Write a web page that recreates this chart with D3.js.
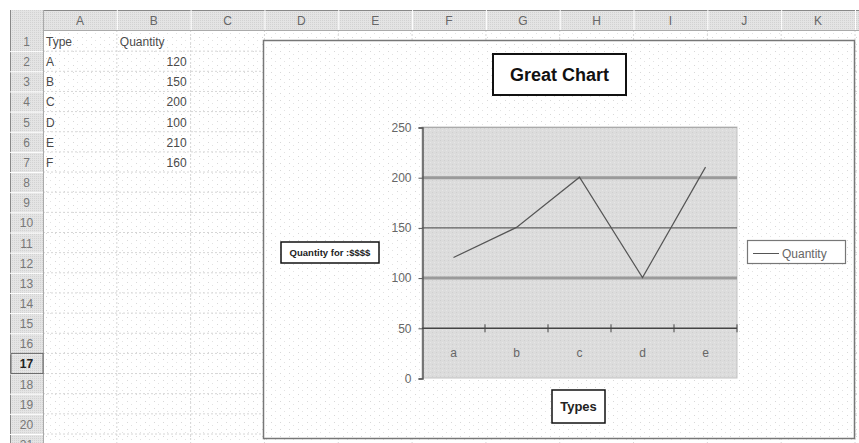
<!DOCTYPE html>
<html>
<head>
<meta charset="utf-8">
<script src="https://cdn.jsdelivr.net/npm/d3@7"></script>
<style>
  body { margin: 0; background: #fff; }
  svg { display: block; font-family: "Liberation Sans", Arial, sans-serif; }
</style>
</head>
<body>
<div id="vis"></div>
<script>
// sheet contents
var colLetters = ["A", "B", "C", "D", "E", "F", "G", "H", "I", "J", "K"];
var rowNumbers = d3.range(1, 22);
var cellTypes = ["A", "B", "C", "D", "E", "F"];
var cellQuantities = [120, 150, 200, 100, 210, 160];

// chart contents
var chartTitle = "Great Chart";
var chartCategories = ["a", "b", "c", "d", "e"];
var chartValues = [120, 150, 200, 100, 210];
var yTicks = [0, 50, 100, 150, 200, 250];
var seriesName = "Quantity";
var yTitle = "Quantity for :$$$$";
var xTitle = "Types";

var width = 859, height = 443;

var svg = d3.select("#vis").append("svg")
    .attr("width", width)
    .attr("height", height);

var defs = svg.append("defs");
// faint dotted texture of the sheet
var dots = defs.append("pattern").attr("id", "dots")
    .attr("width", 9).attr("height", 7).attr("patternUnits", "userSpaceOnUse");
dots.append("rect").attr("width", 9).attr("height", 7).attr("fill", "#fff");
dots.append("rect").attr("x", 1).attr("y", 2).attr("width", 1).attr("height", 1).attr("fill", "#d8d8d8");
dots.append("rect").attr("x", 5).attr("y", 5).attr("width", 1).attr("height", 1).attr("fill", "#e2e2e2");

var grain = defs.append("pattern").attr("id", "grain")
    .attr("width", 4).attr("height", 4).attr("patternUnits", "userSpaceOnUse");
grain.append("rect").attr("width", 4).attr("height", 4).attr("fill", "#dcdcdc");
grain.append("rect").attr("x", 0).attr("y", 0).attr("width", 1).attr("height", 1).attr("fill", "#cfcfcf");
grain.append("rect").attr("x", 2).attr("y", 2).attr("width", 1).attr("height", 1).attr("fill", "#e6e6e6");

var head = defs.append("pattern").attr("id", "head")
    .attr("width", 2).attr("height", 2).attr("patternUnits", "userSpaceOnUse");
head.append("rect").attr("width", 2).attr("height", 2).attr("fill", "#e4e4e4");
head.append("rect").attr("width", 1).attr("height", 1).attr("fill", "#d2d2d2");

////////// spreadsheet //////////

var sheetLeft = 10, sheetTop = 10, headH = 20, rowNumW = 33;

var colX = d3.scaleBand()
    .domain(colLetters)
    .range([sheetLeft + rowNumW, 855]);

var rowY = d3.scaleBand()
    .domain(rowNumbers)
    .range([sheetTop + headH + 1, sheetTop + headH + 1 + 21 * 20.15]);

svg.append("rect")
    .attr("x", sheetLeft).attr("y", sheetTop)
    .attr("width", width - sheetLeft).attr("height", height - sheetTop)
    .attr("fill", "url(#dots)");

// cell grid
svg.append("g").selectAll("line")
  .data(rowNumbers)
  .enter().append("line")
    .attr("x1", sheetLeft + rowNumW).attr("x2", width)
    .attr("y1", function(d) { return rowY(d) + rowY.bandwidth(); })
    .attr("y2", function(d) { return rowY(d) + rowY.bandwidth(); })
    .attr("stroke", "#d6d6d6")
    .attr("stroke-dasharray", "2,2");

svg.append("g").selectAll("line")
  .data(colLetters)
  .enter().append("line")
    .attr("x1", function(d) { return colX(d) + colX.bandwidth(); })
    .attr("x2", function(d) { return colX(d) + colX.bandwidth(); })
    .attr("y1", sheetTop + headH).attr("y2", height)
    .attr("stroke", "#d6d6d6")
    .attr("stroke-dasharray", "2,2");

// column headers
svg.append("rect")
    .attr("x", sheetLeft).attr("y", sheetTop)
    .attr("width", width - sheetLeft).attr("height", headH)
    .attr("fill", "url(#head)");
svg.append("line")
    .attr("x1", sheetLeft).attr("x2", width)
    .attr("y1", sheetTop + 0.5).attr("y2", sheetTop + 0.5)
    .attr("stroke", "#888");
svg.append("line")
    .attr("x1", sheetLeft).attr("x2", width)
    .attr("y1", sheetTop + headH + 0.5).attr("y2", sheetTop + headH + 0.5)
    .attr("stroke", "#aaa");

var colHeads = svg.append("g").selectAll("g")
  .data(colLetters)
  .enter().append("g");
colHeads.append("line")
    .attr("x1", function(d) { return colX(d) + colX.bandwidth() + 0.5; })
    .attr("x2", function(d) { return colX(d) + colX.bandwidth() + 0.5; })
    .attr("y1", sheetTop).attr("y2", sheetTop + headH)
    .attr("stroke", "#fff");
colHeads.append("text")
    .attr("x", function(d) { return colX(d) + colX.bandwidth() / 2; })
    .attr("y", sheetTop + 15)
    .attr("text-anchor", "middle")
    .attr("font-size", 12)
    .attr("fill", "#666")
    .text(function(d) { return d; });

// row numbers
svg.append("rect")
    .attr("x", sheetLeft).attr("y", sheetTop)
    .attr("width", rowNumW).attr("height", height - sheetTop)
    .attr("fill", "url(#head)");
svg.append("line")
    .attr("x1", sheetLeft + 0.5).attr("x2", sheetLeft + 0.5)
    .attr("y1", sheetTop).attr("y2", height)
    .attr("stroke", "#888");
svg.append("line")
    .attr("x1", sheetLeft + rowNumW + 0.5).attr("x2", sheetLeft + rowNumW + 0.5)
    .attr("y1", sheetTop).attr("y2", height)
    .attr("stroke", "#aaa");

var rowHeads = svg.append("g").selectAll("g")
  .data(rowNumbers)
  .enter().append("g");
rowHeads.append("line")
    .attr("x1", sheetLeft).attr("x2", sheetLeft + rowNumW)
    .attr("y1", function(d) { return rowY(d) + rowY.bandwidth() + 0.5; })
    .attr("y2", function(d) { return rowY(d) + rowY.bandwidth() + 0.5; })
    .attr("stroke", "#fff");
rowHeads.append("text")
    .attr("x", sheetLeft + rowNumW / 2)
    .attr("y", function(d) { return rowY(d) + 15; })
    .attr("text-anchor", "middle")
    .attr("font-size", 12)
    .attr("font-weight", function(d) { return d === 17 ? "bold" : "normal"; })
    .attr("fill", function(d) { return d === 17 ? "#222" : "#777"; })
    .text(function(d) { return d; });
// active row marker
svg.append("rect")
    .attr("x", sheetLeft + 1).attr("y", rowY(17))
    .attr("width", rowNumW - 1).attr("height", rowY.bandwidth())
    .attr("fill", "none").attr("stroke", "#666");

// cell values
var cellG = svg.append("g").attr("font-size", 12).attr("fill", "#4a4a4a");
cellG.append("text")
    .attr("x", colX("A") + 3).attr("y", rowY(1) + 15)
    .text("Type");
cellG.append("text")
    .attr("x", colX("B") + 3).attr("y", rowY(1) + 15)
    .text("Quantity");
cellG.selectAll(".ctype")
  .data(cellTypes)
  .enter().append("text")
    .attr("class", "ctype")
    .attr("x", colX("A") + 3)
    .attr("y", function(d, i) { return rowY(i + 2) + 15; })
    .text(function(d) { return d; });
cellG.selectAll(".cqty")
  .data(cellQuantities)
  .enter().append("text")
    .attr("class", "cqty")
    .attr("x", colX("B") + colX.bandwidth() - 4)
    .attr("y", function(d, i) { return rowY(i + 2) + 15; })
    .attr("text-anchor", "end")
    .text(function(d) { return d; });

////////// chart //////////

var chartBox = { x: 263, y: 40, w: 591, h: 398 };
svg.append("rect")
    .attr("x", chartBox.x + 0.5).attr("y", chartBox.y + 0.5)
    .attr("width", chartBox.w).attr("height", chartBox.h)
    .attr("fill", "url(#dots)")
    .attr("stroke", "#777")
    .attr("stroke-width", 1.5);

var plot = { left: 422, right: 737, top: 127, bottom: 378 };

var x = d3.scaleBand()
    .domain(chartCategories)
    .range([plot.left, plot.right]);

var y = d3.scaleLinear()
    .domain([0, 250])
    .range([plot.bottom, plot.top]);

svg.append("rect")
    .attr("x", plot.left).attr("y", plot.top)
    .attr("width", plot.right - plot.left).attr("height", plot.bottom - plot.top)
    .attr("fill", "url(#grain)")
    .attr("stroke", "#c4c4c4");

// gridlines
var gridStyle = {
  250: { w: 1, c: "#aaa" },
  200: { w: 3, c: "#9a9a9a" },
  150: { w: 1, c: "#444" },
  100: { w: 3, c: "#9a9a9a" }
};
svg.append("g").selectAll("line")
  .data(yTicks.filter(function(d) { return gridStyle[d]; }))
  .enter().append("line")
    .attr("x1", plot.left).attr("x2", plot.right)
    .attr("y1", function(d) { return y(d) + 0.5; })
    .attr("y2", function(d) { return y(d) + 0.5; })
    .attr("stroke", function(d) { return gridStyle[d].c; })
    .attr("stroke-width", function(d) { return gridStyle[d].w; });

// y axis
var yAxis = svg.append("g")
    .attr("transform", "translate(" + (plot.left + 0.5) + ",0.5)")
    .call(d3.axisLeft(y).tickValues(yTicks).tickSize(4).tickPadding(7));
yAxis.select(".domain").attr("stroke", "#555").attr("stroke-width", 1.5);
yAxis.selectAll(".tick line").attr("stroke", "#555");
yAxis.selectAll("text")
    .attr("font-family", "Liberation Sans, Arial, sans-serif")
    .attr("font-size", 12)
    .attr("fill", "#666");

// category axis crossing at 50
var catTicks = chartCategories.slice(1).map(function(d) { return x(d); }).concat([plot.right]);
var xAxisY = y(50) + 0.5;
svg.append("line")
    .attr("x1", plot.left).attr("x2", plot.right)
    .attr("y1", xAxisY).attr("y2", xAxisY)
    .attr("stroke", "#444").attr("stroke-width", 1.5);
svg.append("g").selectAll("line")
  .data(catTicks)
  .enter().append("line")
    .attr("x1", function(d) { return d; })
    .attr("x2", function(d) { return d; })
    .attr("y1", xAxisY - 4).attr("y2", xAxisY + 4)
    .attr("stroke", "#444");
svg.append("g").selectAll("text")
  .data(chartCategories)
  .enter().append("text")
    .attr("x", function(d) { return x(d) + x.bandwidth() / 2; })
    .attr("y", y(25) + 4)
    .attr("text-anchor", "middle")
    .attr("font-size", 12)
    .attr("fill", "#666")
    .text(function(d) { return d; });

// series line
var line = d3.line()
    .x(function(d, i) { return x(chartCategories[i]) + x.bandwidth() / 2; })
    .y(function(d) { return y(d); });
svg.append("path")
    .datum(chartValues)
    .attr("d", line)
    .attr("fill", "none")
    .attr("stroke", "#555")
    .attr("stroke-width", 1.2);

// title
svg.append("rect")
    .attr("x", 493).attr("y", 54)
    .attr("width", 133).attr("height", 41)
    .attr("fill", "#fff").attr("stroke", "#111").attr("stroke-width", 2);
svg.append("text")
    .attr("x", 559.5).attr("y", 81)
    .attr("text-anchor", "middle")
    .attr("font-size", 18).attr("font-weight", "bold")
    .attr("fill", "#111")
    .text(chartTitle);

// y axis title
svg.append("rect")
    .attr("x", 281).attr("y", 242)
    .attr("width", 98).attr("height", 21)
    .attr("fill", "#fff").attr("stroke", "#111").attr("stroke-width", 1.5);
svg.append("text")
    .attr("x", 330).attr("y", 256)
    .attr("text-anchor", "middle")
    .attr("font-size", 9.5).attr("font-weight", "bold")
    .attr("fill", "#222")
    .text(yTitle);

// x axis title
svg.append("rect")
    .attr("x", 552).attr("y", 390)
    .attr("width", 53).attr("height", 33)
    .attr("fill", "#fff").attr("stroke", "#111").attr("stroke-width", 1.5);
svg.append("text")
    .attr("x", 578.5).attr("y", 411)
    .attr("text-anchor", "middle")
    .attr("font-size", 13).attr("font-weight", "bold")
    .attr("fill", "#222")
    .text(xTitle);

// legend
svg.append("rect")
    .attr("x", 747.5).attr("y", 240.5)
    .attr("width", 98).attr("height", 23)
    .attr("fill", "#fff").attr("stroke", "#777").attr("stroke-width", 1.2);
svg.append("line")
    .attr("x1", 753).attr("x2", 779)
    .attr("y1", 253.5).attr("y2", 253.5)
    .attr("stroke", "#555");
svg.append("text")
    .attr("x", 782).attr("y", 257.5)
    .attr("font-size", 12)
    .attr("fill", "#666")
    .text(seriesName);
</script>
</body>
</html>
